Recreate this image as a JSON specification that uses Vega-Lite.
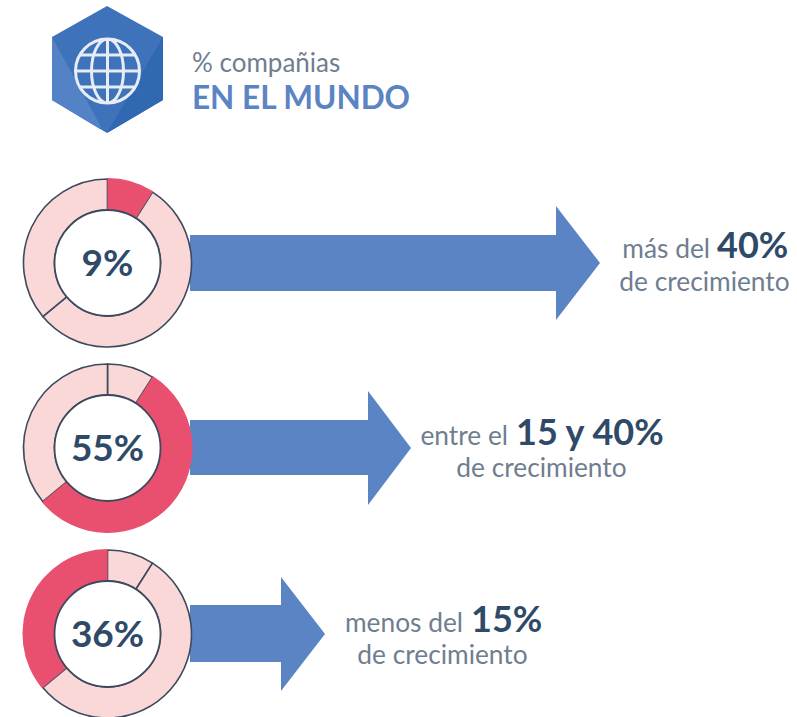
{
"$schema":"https://vega.github.io/schema/vega-lite/v6.json",
"width":797,"height":717,"padding":0,"autosize":"none","background":"#ffffff",
"config":{"view":{"stroke":null}},
"datasets":{
"hex":[{"f":"a","x":52,"y":37,"y2":100},{"f":"a","x":107,"y":6,"y2":133},{"f":"a","x":163,"y":37,"y2":100},
{"f":"b","x":52,"y":37,"y2":100},{"f":"b","x":100,"y":125,"y2":129},
{"f":"c","x":107,"y":133,"y2":133},{"f":"c","x":163,"y":37,"y2":100}],
"globe":[{"x":107.5,"y":71}],
"donuts":[
{"grupo":"más del 40%","x":107.5,"y":263,"start":0,"end":9,"estado":"destacado"},
{"grupo":"más del 40%","x":107.5,"y":263,"start":9,"end":64,"estado":"resto"},
{"grupo":"más del 40%","x":107.5,"y":263,"start":64,"end":100,"estado":"resto"},
{"grupo":"entre el 15 y 40%","x":107.5,"y":448,"start":0,"end":9,"estado":"resto"},
{"grupo":"entre el 15 y 40%","x":107.5,"y":448,"start":9,"end":64,"estado":"destacado"},
{"grupo":"entre el 15 y 40%","x":107.5,"y":448,"start":64,"end":100,"estado":"resto"},
{"grupo":"menos del 15%","x":107.5,"y":634,"start":0,"end":9,"estado":"resto"},
{"grupo":"menos del 15%","x":107.5,"y":634,"start":9,"end":64,"estado":"resto"},
{"grupo":"menos del 15%","x":107.5,"y":634,"start":64,"end":100,"estado":"destacado"}],
"centros":[{"x":107.5,"y":263,"t":"9%"},{"x":107.5,"y":448,"t":"55%"},{"x":107.5,"y":634,"t":"36%"}],
"flechas":[
{"g":"1a","x":190,"y":235,"y2":291},{"g":"1a","x":556,"y":235,"y2":291},{"g":"1b","x":556,"y":206,"y2":320},{"g":"1b","x":600,"y":263,"y2":263},
{"g":"2a","x":190,"y":420,"y2":475},{"g":"2a","x":368,"y":420,"y2":475},{"g":"2b","x":368,"y":391,"y2":505},{"g":"2b","x":411,"y":448,"y2":448},
{"g":"3a","x":190,"y":605,"y2":662},{"g":"3a","x":281,"y":605,"y2":662},{"g":"3b","x":281,"y":577,"y2":691},{"g":"3b","x":325,"y":634,"y2":634}],
"finos":[{"x":710,"y":258,"t":"más del"},{"x":508,"y":445,"t":"entre el"},{"x":463,"y":632,"t":"menos del"}],
"gruesos":[{"x":717,"y":258,"t":"40%"},{"x":516,"y":445,"t":"15 y 40%"},{"x":471,"y":632,"t":"15%"}],
"crec":[{"x":704.5,"y":291,"t":"de crecimiento"},{"x":541.5,"y":477,"t":"de crecimiento"},{"x":442.5,"y":664,"t":"de crecimiento"}]
},
"encoding":{
"x":{"field":"x","type":"quantitative","axis":null,"scale":{"domain":[0,797],"range":[0,797],"nice":false,"zero":false}},
"y":{"field":"y","type":"quantitative","axis":null,"scale":{"domain":[0,717],"range":[0,717],"nice":false,"zero":false}}
},
"layer":[
{"data":{"name":"hex"},"mark":{"type":"area","interpolate":"linear","opacity":1},
"encoding":{"y2":{"field":"y2"},"detail":{"field":"f"},
"color":{"field":"f","type":"nominal","legend":null,"scale":{"domain":["a","b","c"],"range":["#3e73bb","#5382c6","#3068b2"]}}}},
{"data":{"name":"globe"},"mark":{"type":"point","filled":false,"size":4096,"strokeWidth":3,"stroke":"#e6edf7","opacity":1,
"shape":"M-1,0A1,1,0,1,1,1,0A1,1,0,1,1,-1,0ZM0,-1A0.5,1,0,1,1,0,1A0.5,1,0,1,1,0,-1ZM0,-1L0,1M-1,0L1,0M-0.87,-0.5L0.87,-0.5M-0.87,0.5L0.87,0.5"}},
{"data":{"name":"flechas"},"mark":{"type":"area","color":"#5a84c4","interpolate":"linear","opacity":1},
"encoding":{"y2":{"field":"y2"},"detail":{"field":"g"}}},
{"data":{"name":"donuts"},"transform":[{"filter":"datum.estado==='resto'"}],
"mark":{"type":"arc","radius":84,"radius2":53,"fill":"#fad8d8","stroke":"#3d4a5e","strokeWidth":1.6},
"encoding":{"theta":{"field":"start","type":"quantitative","stack":null,"scale":{"domain":[0,100],"range":[0,6.28318]}},"theta2":{"field":"end"}}},
{"data":{"name":"donuts"},"transform":[{"filter":"datum.estado==='destacado'"}],
"mark":{"type":"arc","radius":85,"radius2":53,"fill":"#e94f6e"},
"encoding":{"theta":{"field":"start","type":"quantitative","stack":null,"scale":{"domain":[0,100],"range":[0,6.28318]}},"theta2":{"field":"end"}}},
{"data":{"name":"centros"},"mark":{"type":"point","shape":"circle","filled":true,"fill":"#ffffff","opacity":1,"fillOpacity":1,"stroke":"#3d4a5e","strokeWidth":1.8,"size":11236}},
{"data":{"name":"centros"},"mark":{"type":"text","font":"Lato","fontWeight":"bold","fontSize":37,"dy":2,"color":"#2f4a68","align":"center","baseline":"middle"},"encoding":{"text":{"field":"t"}}},
{"data":{"values":[{"x":192,"y":72,"t":"% compañias"}]},"mark":{"type":"text","font":"Lato","fontSize":26,"color":"#6f7e8f","align":"left","baseline":"alphabetic"},"encoding":{"text":{"field":"t"}}},
{"data":{"values":[{"x":192,"y":109,"t":"EN EL MUNDO"}]},"mark":{"type":"text","font":"Lato","fontWeight":"bold","fontSize":31.5,"color":"#5a84c4","align":"left","baseline":"alphabetic"},"encoding":{"text":{"field":"t"}}},
{"data":{"name":"finos"},"mark":{"type":"text","font":"Lato","fontSize":26.3,"color":"#6f7e8f","align":"right","baseline":"alphabetic"},"encoding":{"text":{"field":"t"}}},
{"data":{"name":"gruesos"},"mark":{"type":"text","font":"Lato","fontWeight":"bold","fontSize":36,"color":"#2f4a68","align":"left","baseline":"alphabetic"},"encoding":{"text":{"field":"t"}}},
{"data":{"name":"crec"},"mark":{"type":"text","font":"Lato","fontSize":26.3,"color":"#6f7e8f","align":"center","baseline":"alphabetic"},"encoding":{"text":{"field":"t"}}}
]
}
